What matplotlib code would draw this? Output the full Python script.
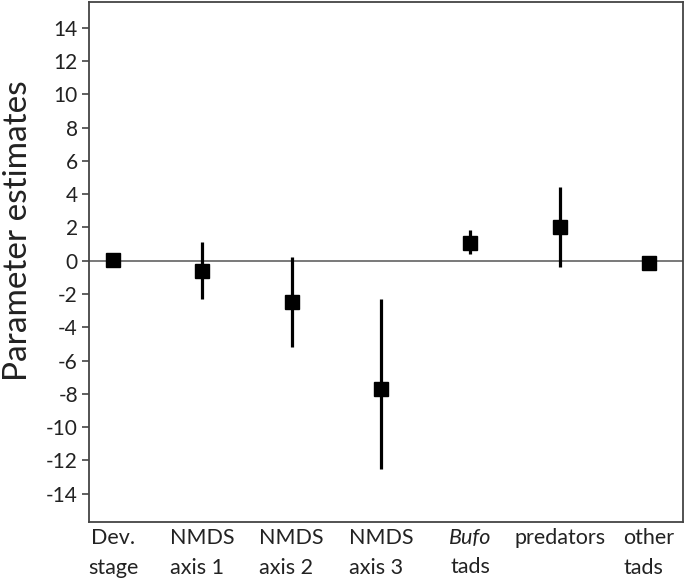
import matplotlib.pyplot as plt
import numpy as np

plt.rcParams['font.family'] = ['Lato', 'DejaVu Sans']
plt.rcParams['axes.unicode_minus'] = False

# parameter estimates with interval bounds
line1 = ['Dev.', 'NMDS', 'NMDS', 'NMDS', 'Bufo', 'predators', 'other']
line2 = ['stage', 'axis 1', 'axis 2', 'axis 3', 'tads', '', 'tads']
estimate = [0.05, -0.62, -2.5, -7.7, 1.06, 2.0, -0.15]
lower = [0.05, -2.3, -5.2, -12.5, 0.38, -0.38, -0.15]
upper = [0.05, 1.1, 0.25, -2.3, 1.82, 4.45, -0.15]

x = np.arange(1, len(line1) + 1)
est = np.array(estimate)
yerr = [est - np.array(lower), np.array(upper) - est]

fig = plt.figure(figsize=(6.85, 5.8), dpi=100)
ax = fig.add_axes([0.130, 0.100, 0.867, 0.8966])

ax.axhline(0, color='#555555', lw=1.1, zorder=1)
ax.errorbar(x, est, yerr=yerr, fmt='s', color='black', ms=9.5, elinewidth=2.3,
            capsize=0, zorder=3)

ax.set_xlim(0.731, 7.38)
ax.set_ylim(-15.7, 15.55)
ax.set_yticks(np.arange(-14, 15, 2))
ax.tick_params(axis='y', labelsize=15, length=5, width=1.2, color='#444444',
               labelcolor='#222222', pad=3)
ax.set_xticks([])
for s in ax.spines.values():
    s.set_color('#444444')
    s.set_linewidth(1.3)

ax.set_ylabel('Parameter estimates', fontsize=24, color='#222222')
ax.yaxis.set_label_coords(-0.094, 0.56)

tr = ax.get_xaxis_transform()
for i in range(len(x)):
    if i == 0:
        ax.text(x[i], -0.012, line1[i] + '\n' + line2[i], transform=tr,
                ha='center', va='top', multialignment='center', fontsize=15.5,
                color='#222222', linespacing=1.6)
    elif i == 4:
        # italic genus name on its own line
        ax.annotate(line1[i], xy=(x[i], 0), xycoords=tr, xytext=(0, -4.5),
                    textcoords='offset points', ha='center', va='top',
                    fontsize=15.5, style='italic', color='#222222')
        ax.annotate(line2[i], xy=(x[i], 0), xycoords=tr, xytext=(0, -25),
                    textcoords='offset points', ha='center', va='top',
                    fontsize=15.5, color='#222222')
    else:
        ax.text(x[i], -0.012, (line1[i] + '\n' + line2[i]).strip(), transform=tr,
                ha='center', va='top', multialignment='left', fontsize=15.5,
                color='#222222', linespacing=1.6)

fig.savefig('out.png', dpi=100)
